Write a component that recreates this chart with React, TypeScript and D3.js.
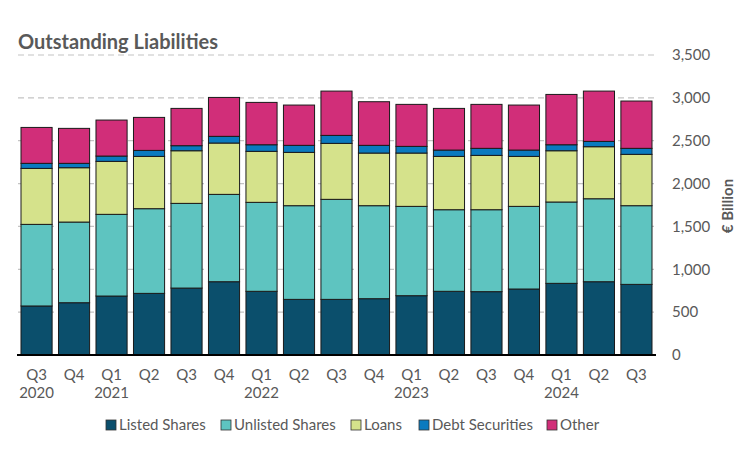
import React from "react";
import * as d3 from "d3";

const quarters = ["Q3", "Q4", "Q1", "Q2", "Q3", "Q4", "Q1", "Q2", "Q3", "Q4", "Q1", "Q2", "Q3", "Q4", "Q1", "Q2", "Q3"];
const years = ["2020", "", "2021", "", "", "", "2022", "", "", "", "2023", "", "", "", "2024", "", ""];

const listedShares = [572, 610, 688, 719, 781, 855, 743, 649, 649, 657, 692, 743, 739, 770, 836, 855, 824];
const unlistedShares = [952, 941, 953, 988, 988, 1019, 1038, 1093, 1167, 1085, 1042, 952, 956, 964, 949, 968, 918];
const loans = [653, 634, 618, 610, 614, 599, 595, 622, 653, 614, 622, 622, 634, 583, 598, 607, 599];
const debtSecurities = [59, 51, 62, 70, 59, 78, 77, 82, 93, 90, 78, 74, 82, 74, 70, 62, 70];
const other = [419, 408, 420, 385, 435, 454, 494, 470, 517, 509, 490, 486, 513, 525, 587, 587, 552];

const seriesNames = ["Listed Shares", "Unlisted Shares", "Loans", "Debt Securities", "Other"];
const seriesColors = ["#0b4f6c", "#5ec4c0", "#d5e28b", "#0a7abf", "#d12e79"];
const yTicks = [0, 500, 1000, 1500, 2000, 2500, 3000, 3500];

const W = 756;
const H = 450;
const left = 18;
const right = 655;
const top = 55;
const bottom = 355;
const font = "Lato, 'Open Sans', sans-serif";
const textColor = "#595959";

export default function App() {
  const idx = quarters.map((_, i) => i);
  const rows = idx.map((i) => ({
    i,
    "Listed Shares": listedShares[i],
    "Unlisted Shares": unlistedShares[i],
    Loans: loans[i],
    "Debt Securities": debtSecurities[i],
    Other: other[i],
  }));
  const stack = d3.stack<any>().keys(seriesNames)(rows);

  const x = d3.scaleBand<number>().domain(idx).range([left, right]).paddingInner(0.17).paddingOuter(0.08);
  const y = d3.scaleLinear().domain([0, 3500]).range([bottom, top]);

  const legendItems = [
    { x: 106, label: seriesNames[0] },
    { x: 221, label: seriesNames[1] },
    { x: 351, label: seriesNames[2] },
    { x: 419, label: seriesNames[3] },
    { x: 547, label: seriesNames[4] },
  ];

  return (
    <svg width={W} height={H} style={{ position: "absolute", left: 0, top: 0, background: "#fff" }} fontFamily={font}>
      <text x={18} y={49} fontSize={20} fontWeight="bold" fill={textColor}>
        Outstanding Liabilities
      </text>
      {yTicks.slice(1).map((t) => (
        <line key={t} x1={left} x2={right} y1={y(t)} y2={y(t)} stroke="#c4c4c4" strokeWidth={1.2} strokeDasharray="6,4" />
      ))}
      {stack.map((s, si) => (
        <g key={si}>
          {s.map((d, i) => (
            <rect
              key={i}
              x={x(i)}
              width={x.bandwidth()}
              y={y(d[1])}
              height={y(d[0]) - y(d[1])}
              fill={seriesColors[si]}
              stroke="#1a1a1a"
              strokeWidth={1}
            />
          ))}
        </g>
      ))}
      <line x1={left - 1} x2={right + 1} y1={bottom} y2={bottom} stroke="#000" strokeWidth={2} />
      {yTicks.map((t) => (
        <text key={t} x={672} y={y(t)} dy="0.35em" fontSize={15} fill={textColor}>
          {d3.format(",")(t)}
        </text>
      ))}
      <text
        transform={`translate(733, 206) rotate(-90)`}
        textAnchor="middle"
        fontSize={15}
        fontWeight="bold"
        fill={textColor}
      >
        € Billion
      </text>
      {idx.map((i) => (
        <g key={i}>
          <text x={x(i)! + x.bandwidth() / 2} y={380} textAnchor="middle" fontSize={15} fill={textColor}>
            {quarters[i]}
          </text>
          {years[i] && (
            <text x={x(i)! + x.bandwidth() / 2} y={398} textAnchor="middle" fontSize={15} fill={textColor}>
              {years[i]}
            </text>
          )}
        </g>
      ))}
      {legendItems.map((it, k) => (
        <g key={k}>
          <rect x={it.x} y={420} width={10} height={10} fill={seriesColors[k]} stroke="#333" strokeWidth={0.8} />
          <text x={it.x + 13} y={425} dy="0.35em" fontSize={15} fill={textColor}>
            {it.label}
          </text>
        </g>
      ))}
    </svg>
  );
}
